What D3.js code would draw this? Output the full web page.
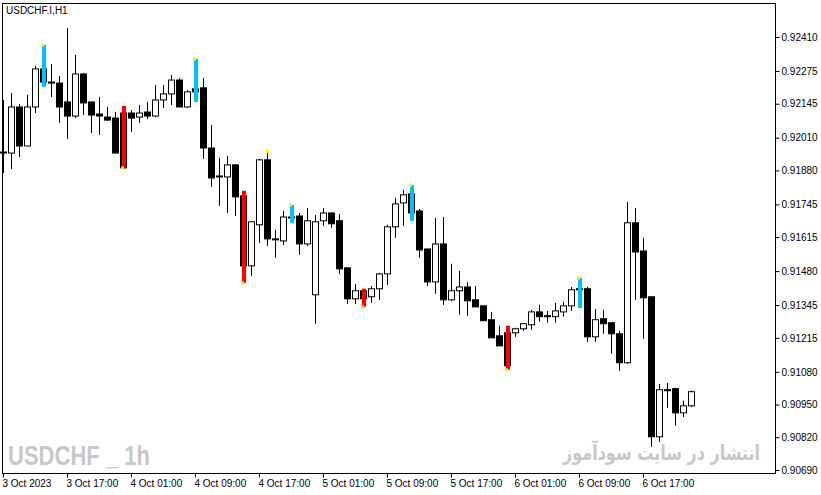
<!DOCTYPE html>
<html>
<head>
<meta charset="utf-8">
<script src="https://cdn.jsdelivr.net/npm/d3@7"></script>
<style>
  body { margin: 0; background: #fff; }
  text { font-family: "Liberation Sans", "DejaVu Sans", sans-serif; font-size: 11px; fill: #000; }
</style>
</head>
<body>
<svg id="chart" width="821" height="495"></svg>
<script>
// hourly USDCHF candles, starting 3 Oct 2023 09:00
var opens = [0.91949,0.91949,0.92132,0.91977,0.92132,0.92283,0.92231,0.92227,0.92152,0.92096,
  0.92263,0.92152,0.92104,0.92092,0.92088,0.92108,0.92108,0.92092,0.92112,0.92096,
  0.92160,0.92184,0.92239,0.92132,0.92204,0.92208,0.91969,0.91858,0.91854,0.91902,
  0.91779,0.91501,0.91664,0.91922,0.91608,0.91600,0.91695,0.91699,0.91588,0.91386,
  0.91680,0.91711,0.91680,0.91493,0.91370,0.91402,0.91378,0.91410,0.91469,0.91656,
  0.91751,0.91787,0.91719,0.91568,0.91437,0.91588,0.91366,0.91402,0.91417,0.91366,
  0.91342,0.91287,0.91223,0.91235,0.91235,0.91251,0.91267,0.91318,0.91303,0.91299,
  0.91318,0.91342,0.91410,0.91410,0.91219,0.91291,0.91275,0.91231,0.91116,0.91672,
  0.91560,0.91378,0.90822,0.91009,0.91013,0.90917,0.90945];
var highs = [0.92160,0.92188,0.92144,0.92180,0.92295,0.92378,0.92303,0.92255,0.92446,0.92339,
  0.92267,0.92152,0.92172,0.92132,0.92112,0.92136,0.92120,0.92140,0.92152,0.92219,
  0.92219,0.92259,0.92247,0.92200,0.92323,0.92247,0.92061,0.91930,0.91938,0.91906,
  0.91799,0.91676,0.91926,0.91953,0.91644,0.91719,0.91743,0.91711,0.91731,0.91703,
  0.91731,0.91715,0.91707,0.91493,0.91429,0.91410,0.91421,0.91473,0.91664,0.91771,
  0.91803,0.91822,0.91727,0.91568,0.91691,0.91695,0.91509,0.91481,0.91437,0.91421,
  0.91342,0.91318,0.91263,0.91263,0.91255,0.91271,0.91326,0.91346,0.91322,0.91354,
  0.91358,0.91417,0.91453,0.91417,0.91330,0.91326,0.91275,0.91243,0.91755,0.91731,
  0.91612,0.91378,0.91032,0.91036,0.91017,0.90965,0.91005];
var lows = [0.91870,0.91886,0.91934,0.91977,0.92108,0.92212,0.92172,0.92069,0.92005,0.92088,
  0.92100,0.92029,0.92021,0.92077,0.91949,0.91890,0.92033,0.92069,0.92084,0.92092,
  0.92128,0.92140,0.92132,0.92128,0.92152,0.91926,0.91815,0.91739,0.91711,0.91699,
  0.91433,0.91461,0.91592,0.91580,0.91533,0.91584,0.91672,0.91545,0.91580,0.91271,
  0.91660,0.91652,0.91469,0.91350,0.91350,0.91338,0.91354,0.91366,0.91425,0.91612,
  0.91660,0.91680,0.91533,0.91421,0.91390,0.91346,0.91362,0.91307,0.91303,0.91338,
  0.91283,0.91215,0.91183,0.91088,0.91219,0.91243,0.91247,0.91279,0.91275,0.91275,
  0.91299,0.91322,0.91334,0.91199,0.91199,0.91231,0.91152,0.91084,0.91112,0.91366,
  0.91211,0.90782,0.90802,0.90937,0.90866,0.90901,0.90941];
var closes = [0.91953,0.92132,0.91977,0.92132,0.92283,0.92231,0.92227,0.92132,0.92096,0.92263,
  0.92148,0.92100,0.92096,0.92080,0.91949,0.91890,0.92088,0.92108,0.92096,0.92160,
  0.92184,0.92239,0.92132,0.92192,0.92192,0.91969,0.91850,0.91854,0.91902,0.91775,
  0.91501,0.91676,0.91922,0.91608,0.91608,0.91695,0.91695,0.91588,0.91680,0.91676,
  0.91711,0.91668,0.91489,0.91370,0.91402,0.91370,0.91410,0.91469,0.91656,0.91747,
  0.91783,0.91711,0.91564,0.91437,0.91588,0.91366,0.91402,0.91417,0.91362,0.91338,
  0.91283,0.91215,0.91183,0.91104,0.91251,0.91271,0.91318,0.91299,0.91299,0.91322,
  0.91342,0.91406,0.91410,0.91219,0.91287,0.91271,0.91231,0.91116,0.91672,0.91556,
  0.91374,0.90822,0.91009,0.91009,0.90917,0.90945,0.91001];

// indicator signals (candle index)
var buySignals = [5, 24, 36, 51, 72];
var sellSignals = [15, 30, 45, 63];
var dotOnly = [33];

var priceTicks = [0.92410,0.92275,0.92145,0.92010,0.91880,0.91745,0.91615,0.91480,0.91345,0.91215,0.91080,0.90950,0.90820,0.90690];
var timeTicks = [0, 8, 16, 24, 32, 40, 48, 56, 64, 72, 80];
var timeLabels = ["3 Oct 2023","3 Oct 17:00","4 Oct 01:00","4 Oct 09:00","4 Oct 17:00","5 Oct 01:00","5 Oct 09:00","5 Oct 17:00","6 Oct 01:00","6 Oct 09:00","6 Oct 17:00"];

var svg = d3.select("#chart");
var frameLeft = 2, frameRight = 775, frameTop = 3, frameBottom = 473;

var x = d3.scaleLinear().domain([0, 96.5]).range([3, 775]);
var y = d3.scaleLinear().domain([0.90690, 0.92410]).range([470, 37]);

// frame
svg.append("rect").attr("x", frameLeft + 0.5).attr("y", frameTop + 0.5)
  .attr("width", frameRight - frameLeft).attr("height", frameBottom - frameTop)
  .attr("fill", "none").attr("stroke", "#000");

svg.append("text").attr("x", 6).attr("y", 14).style("font-size", "10px").text("USDCHF.I,H1");

// watermarks
svg.append("text").attr("x", 8).attr("y", 465)
  .attr("textLength", 142).attr("lengthAdjust", "spacingAndGlyphs")
  .style("font-size", "27px").style("font-weight", "bold").style("fill", "#c8c8c8")
  .text("USDCHF _ 1h");
svg.append("text").attr("x", 563).attr("y", 460)
  .attr("textLength", 197).attr("lengthAdjust", "spacingAndGlyphs")
  .style("font-size", "21px").style("font-weight", "bold").style("fill", "#c8c8c8")
  .style("font-family", "'DejaVu Sans', sans-serif")
  .text("انتشار در سایت سودآموز");

// price axis
var yAxis = svg.append("g").attr("transform", "translate(" + (frameRight + 0.5) + ",0)")
  .call(d3.axisRight(y).tickValues(priceTicks).tickFormat(d3.format(".5f")).tickSize(4).tickPadding(2));
yAxis.select(".domain").remove();
yAxis.selectAll("text").style("font-size", "10px");

// time axis
var xAxis = svg.append("g").attr("transform", "translate(0," + (frameBottom + 0.5) + ")")
  .call(d3.axisBottom(x).tickValues(timeTicks).tickFormat((d, i) => timeLabels[i]).tickSize(4).tickPadding(2));
xAxis.select(".domain").remove();
xAxis.selectAll("text").attr("text-anchor", "start").attr("dx", "-1").style("font-size", "10px");

var data = opens.map((o, i) => ({ i: i, o: o, h: highs[i], l: lows[i], c: closes[i] }));

var g = svg.append("g");
var candle = g.selectAll("g.c").data(data).enter().append("g");
candle.append("line")
  .attr("x1", d => Math.round(x(d.i)) + 0.5).attr("x2", d => Math.round(x(d.i)) + 0.5)
  .attr("y1", d => y(d.h)).attr("y2", d => y(d.l))
  .attr("stroke", "#000");
candle.append("rect")
  .attr("x", d => Math.round(x(d.i)) - 2.5)
  .attr("y", d => y(Math.max(d.o, d.c)))
  .attr("width", 6)
  .attr("height", d => Math.max(1, Math.abs(y(d.o) - y(d.c))))
  .attr("fill", d => d.c > d.o ? "#fff" : "#000")
  .attr("stroke", "#000");

// signal bars
function signalBar(list, color, dotAtTop) {
  list.forEach(i => {
    var d = data[i];
    var cx = Math.round(x(i)) + 1;
    g.append("rect").attr("x", cx - 2).attr("y", y(d.h)).attr("width", 4)
      .attr("height", y(d.l) - y(d.h)).attr("fill", color);
    g.append("rect").attr("x", cx - 3).attr("y", (dotAtTop ? y(d.h) : y(d.l)) - 1.5)
      .attr("width", 3).attr("height", 3).attr("fill", "#ffee00");
  });
}
signalBar(buySignals, "#00bfff", true);
signalBar(sellSignals, "#ff0000", false);
dotOnly.forEach(i => {
  g.append("rect").attr("x", Math.round(x(i)) - 1).attr("y", y(highs[i]) - 2)
    .attr("width", 3).attr("height", 3).attr("fill", "#ffee00");
});
</script>
</body>
</html>
